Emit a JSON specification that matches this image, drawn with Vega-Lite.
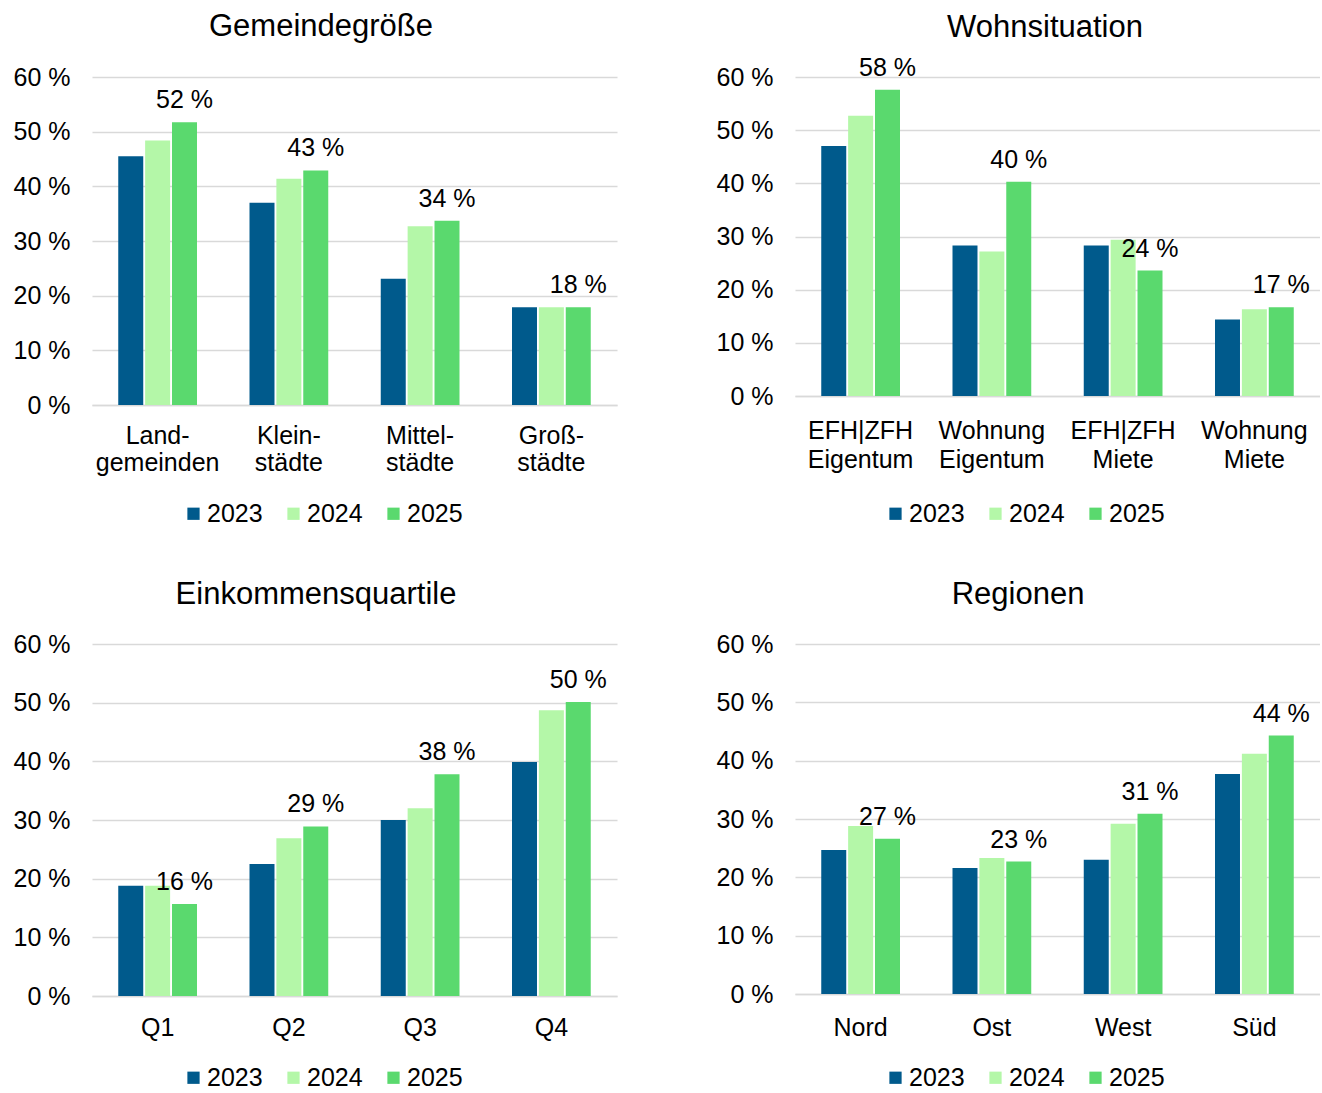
{
  "$schema": "https://vega.github.io/schema/vega-lite/v6.json",
  "padding": {"left": 13, "top": 11, "right": 0, "bottom": 0},
  "background": "white",
  "datasets": {
    "rows": [
      {"panel": "Gemeindegröße", "cat": "Land- gemeinden", "year": "2023", "value": 45.5},
      {"panel": "Gemeindegröße", "cat": "Land- gemeinden", "year": "2024", "value": 48.4},
      {"panel": "Gemeindegröße", "cat": "Land- gemeinden", "year": "2025", "value": 51.7, "label": "52 %"},
      {"panel": "Gemeindegröße", "cat": "Klein- städte", "year": "2023", "value": 37.0},
      {"panel": "Gemeindegröße", "cat": "Klein- städte", "year": "2024", "value": 41.4},
      {"panel": "Gemeindegröße", "cat": "Klein- städte", "year": "2025", "value": 42.9, "label": "43 %"},
      {"panel": "Gemeindegröße", "cat": "Mittel- städte", "year": "2023", "value": 23.1},
      {"panel": "Gemeindegröße", "cat": "Mittel- städte", "year": "2024", "value": 32.7},
      {"panel": "Gemeindegröße", "cat": "Mittel- städte", "year": "2025", "value": 33.7, "label": "34 %"},
      {"panel": "Gemeindegröße", "cat": "Groß- städte", "year": "2023", "value": 17.9},
      {"panel": "Gemeindegröße", "cat": "Groß- städte", "year": "2024", "value": 17.9},
      {"panel": "Gemeindegröße", "cat": "Groß- städte", "year": "2025", "value": 17.9, "label": "18 %"},
      {"panel": "Wohnsituation", "cat": "EFH|ZFH Eigentum", "year": "2023", "value": 47.0},
      {"panel": "Wohnsituation", "cat": "EFH|ZFH Eigentum", "year": "2024", "value": 52.7},
      {"panel": "Wohnsituation", "cat": "EFH|ZFH Eigentum", "year": "2025", "value": 57.6, "label": "58 %"},
      {"panel": "Wohnsituation", "cat": "Wohnung Eigentum", "year": "2023", "value": 28.3},
      {"panel": "Wohnsituation", "cat": "Wohnung Eigentum", "year": "2024", "value": 27.2},
      {"panel": "Wohnsituation", "cat": "Wohnung Eigentum", "year": "2025", "value": 40.3, "label": "40 %"},
      {"panel": "Wohnsituation", "cat": "EFH|ZFH Miete", "year": "2023", "value": 28.3},
      {"panel": "Wohnsituation", "cat": "EFH|ZFH Miete", "year": "2024", "value": 29.4},
      {"panel": "Wohnsituation", "cat": "EFH|ZFH Miete", "year": "2025", "value": 23.6, "label": "24 %"},
      {"panel": "Wohnsituation", "cat": "Wohnung Miete", "year": "2023", "value": 14.4},
      {"panel": "Wohnsituation", "cat": "Wohnung Miete", "year": "2024", "value": 16.3},
      {"panel": "Wohnsituation", "cat": "Wohnung Miete", "year": "2025", "value": 16.7, "label": "17 %"},
      {"panel": "Einkommensquartile", "cat": "Q1", "year": "2023", "value": 18.8},
      {"panel": "Einkommensquartile", "cat": "Q1", "year": "2024", "value": 18.8},
      {"panel": "Einkommensquartile", "cat": "Q1", "year": "2025", "value": 15.7, "label": "16 %"},
      {"panel": "Einkommensquartile", "cat": "Q2", "year": "2023", "value": 22.5},
      {"panel": "Einkommensquartile", "cat": "Q2", "year": "2024", "value": 26.9},
      {"panel": "Einkommensquartile", "cat": "Q2", "year": "2025", "value": 28.9, "label": "29 %"},
      {"panel": "Einkommensquartile", "cat": "Q3", "year": "2023", "value": 30.0},
      {"panel": "Einkommensquartile", "cat": "Q3", "year": "2024", "value": 32.0},
      {"panel": "Einkommensquartile", "cat": "Q3", "year": "2025", "value": 37.8, "label": "38 %"},
      {"panel": "Einkommensquartile", "cat": "Q4", "year": "2023", "value": 39.9},
      {"panel": "Einkommensquartile", "cat": "Q4", "year": "2024", "value": 48.7},
      {"panel": "Einkommensquartile", "cat": "Q4", "year": "2025", "value": 50.1, "label": "50 %"},
      {"panel": "Regionen", "cat": "Nord", "year": "2023", "value": 24.7},
      {"panel": "Regionen", "cat": "Nord", "year": "2024", "value": 28.8},
      {"panel": "Regionen", "cat": "Nord", "year": "2025", "value": 26.6, "label": "27 %"},
      {"panel": "Regionen", "cat": "Ost", "year": "2023", "value": 21.6},
      {"panel": "Regionen", "cat": "Ost", "year": "2024", "value": 23.3},
      {"panel": "Regionen", "cat": "Ost", "year": "2025", "value": 22.7, "label": "23 %"},
      {"panel": "Regionen", "cat": "West", "year": "2023", "value": 23.0},
      {"panel": "Regionen", "cat": "West", "year": "2024", "value": 29.2},
      {"panel": "Regionen", "cat": "West", "year": "2025", "value": 30.9, "label": "31 %"},
      {"panel": "Regionen", "cat": "Süd", "year": "2023", "value": 37.7},
      {"panel": "Regionen", "cat": "Süd", "year": "2024", "value": 41.2},
      {"panel": "Regionen", "cat": "Süd", "year": "2025", "value": 44.3, "label": "44 %"}
    ]
  },
  "data": {"name": "rows"},
  "spacing": 52,
  "resolve": {"scale": {"x": "independent", "y": "independent", "xOffset": "independent", "color": "independent"}, "legend": {"color": "independent"}},
  "vconcat": [
    {
      "spacing": 99,
      "resolve": {"scale": {"x": "independent", "y": "independent", "xOffset": "independent", "color": "independent"}, "legend": {"color": "independent"}},
      "hconcat": [
        {
          "width": 525, "height": 328,
          "title": {"text": "Gemeindegröße", "offset": 22, "dx": 6},
          "transform": [{"filter": "datum.panel == 'Gemeindegröße'"}],
          "encoding": {
            "x": {"field": "cat", "type": "nominal", "sort": null, "scale": {"paddingInner": 0.4, "paddingOuter": 0.2}, "axis": {"title": null, "labelExpr": "split(datum.label, ' ')", "labelAngle": 0, "ticks": false, "domainColor": "#d9d9d9", "domainWidth": 1.5, "labelPadding": 18, "labelLineHeight": 27}},
            "xOffset": {"field": "year", "type": "nominal", "scale": {"paddingInner": 0.07}},
            "y": {"field": "value", "type": "quantitative", "scale": {"domain": [0, 60], "nice": false}, "axis": {"title": null, "values": [0, 10, 20, 30, 40, 50, 60], "labelExpr": "datum.value + ' %'", "domain": false, "ticks": false, "gridColor": "#d9d9d9", "gridWidth": 1.5, "labelPadding": 22}}
          },
          "layer": [
            {"mark": {"type": "bar"}, "encoding": {"color": {"field": "year", "type": "nominal", "scale": {"domain": ["2023", "2024", "2025"], "range": ["#005a8c", "#b4f7a8", "#5ad96e"]}, "legend": {"title": null, "orient": "none", "direction": "horizontal", "legendX": 89, "legendY": 424}}}},
            {"transform": [{"filter": "datum.year == '2025'"}], "mark": {"type": "text", "baseline": "bottom", "dy": -9, "fontSize": 25, "color": "black"}, "encoding": {"text": {"field": "label"}}}
          ]
        },
        {
          "width": 525, "height": 319,
          "title": {"text": "Wohnsituation", "dx": 27, "offset": 12},
          "transform": [{"filter": "datum.panel == 'Wohnsituation'"}],
          "encoding": {
            "x": {"field": "cat", "type": "nominal", "sort": null, "scale": {"paddingInner": 0.4, "paddingOuter": 0.2}, "axis": {"title": null, "labelExpr": "split(datum.label, ' ')", "labelAngle": 0, "ticks": false, "domainColor": "#d9d9d9", "domainWidth": 1.5, "labelPadding": 22, "labelLineHeight": 29}},
            "xOffset": {"field": "year", "type": "nominal", "scale": {"paddingInner": 0.07}},
            "y": {"field": "value", "type": "quantitative", "scale": {"domain": [0, 60], "nice": false}, "axis": {"title": null, "values": [0, 10, 20, 30, 40, 50, 60], "labelExpr": "datum.value + ' %'", "domain": false, "ticks": false, "gridColor": "#d9d9d9", "gridWidth": 1.5, "labelPadding": 22}}
          },
          "layer": [
            {"mark": {"type": "bar"}, "encoding": {"color": {"field": "year", "type": "nominal", "scale": {"domain": ["2023", "2024", "2025"], "range": ["#005a8c", "#b4f7a8", "#5ad96e"]}, "legend": {"title": null, "orient": "none", "direction": "horizontal", "legendX": 88, "legendY": 424}}}},
            {"transform": [{"filter": "datum.year == '2025'"}], "mark": {"type": "text", "baseline": "bottom", "dy": -9, "fontSize": 25, "color": "black"}, "encoding": {"text": {"field": "label"}}}
          ]
        }
      ]
    },
    {
      "spacing": 99,
      "resolve": {"scale": {"x": "independent", "y": "independent", "xOffset": "independent", "color": "independent"}, "legend": {"color": "independent"}},
      "hconcat": [
        {
          "width": 525, "height": 352,
          "title": {"text": "Einkommensquartile", "offset": 21, "dx": 1},
          "transform": [{"filter": "datum.panel == 'Einkommensquartile'"}],
          "encoding": {
            "x": {"field": "cat", "type": "nominal", "sort": null, "scale": {"paddingInner": 0.4, "paddingOuter": 0.2}, "axis": {"title": null, "labelAngle": 0, "ticks": false, "domainColor": "#d9d9d9", "domainWidth": 1.5, "labelPadding": 19}},
            "xOffset": {"field": "year", "type": "nominal", "scale": {"paddingInner": 0.07}},
            "y": {"field": "value", "type": "quantitative", "scale": {"domain": [0, 60], "nice": false}, "axis": {"title": null, "values": [0, 10, 20, 30, 40, 50, 60], "labelExpr": "datum.value + ' %'", "domain": false, "ticks": false, "gridColor": "#d9d9d9", "gridWidth": 1.5, "labelPadding": 22}}
          },
          "layer": [
            {"mark": {"type": "bar"}, "encoding": {"color": {"field": "year", "type": "nominal", "scale": {"domain": ["2023", "2024", "2025"], "range": ["#005a8c", "#b4f7a8", "#5ad96e"]}, "legend": {"title": null, "orient": "none", "direction": "horizontal", "legendX": 89, "legendY": 421}}}},
            {"transform": [{"filter": "datum.year == '2025'"}], "mark": {"type": "text", "baseline": "bottom", "dy": -9, "fontSize": 25, "color": "black"}, "encoding": {"text": {"field": "label"}}}
          ]
        },
        {
          "width": 525, "height": 350,
          "title": {"text": "Regionen", "offset": 21},
          "transform": [{"filter": "datum.panel == 'Regionen'"}],
          "encoding": {
            "x": {"field": "cat", "type": "nominal", "sort": null, "scale": {"paddingInner": 0.4, "paddingOuter": 0.2}, "axis": {"title": null, "labelAngle": 0, "ticks": false, "domainColor": "#d9d9d9", "domainWidth": 1.5, "labelPadding": 21}},
            "xOffset": {"field": "year", "type": "nominal", "scale": {"paddingInner": 0.07}},
            "y": {"field": "value", "type": "quantitative", "scale": {"domain": [0, 60], "nice": false}, "axis": {"title": null, "values": [0, 10, 20, 30, 40, 50, 60], "labelExpr": "datum.value + ' %'", "domain": false, "ticks": false, "gridColor": "#d9d9d9", "gridWidth": 1.5, "labelPadding": 22}}
          },
          "layer": [
            {"mark": {"type": "bar"}, "encoding": {"color": {"field": "year", "type": "nominal", "scale": {"domain": ["2023", "2024", "2025"], "range": ["#005a8c", "#b4f7a8", "#5ad96e"]}, "legend": {"title": null, "orient": "none", "direction": "horizontal", "legendX": 88, "legendY": 421}}}},
            {"transform": [{"filter": "datum.year == '2025'"}], "mark": {"type": "text", "baseline": "bottom", "dy": -9, "fontSize": 25, "color": "black"}, "encoding": {"text": {"field": "label"}}}
          ]
        }
      ]
    }
  ],
  "config": {
    "font": "Liberation Sans",
    "view": {"stroke": null},
    "axis": {"labelFont": "Liberation Sans", "labelFontSize": 25, "labelColor": "black"},
    "legend": {"labelFont": "Liberation Sans", "labelFontSize": 25, "labelColor": "black", "symbolType": "square", "symbolSize": 150, "symbolStrokeWidth": 0, "columnPadding": 18, "labelOffset": 1},
    "title": {"font": "Liberation Sans", "fontSize": 31, "fontWeight": "normal", "color": "black", "anchor": "middle", "frame": "bounds"}
  }
}
